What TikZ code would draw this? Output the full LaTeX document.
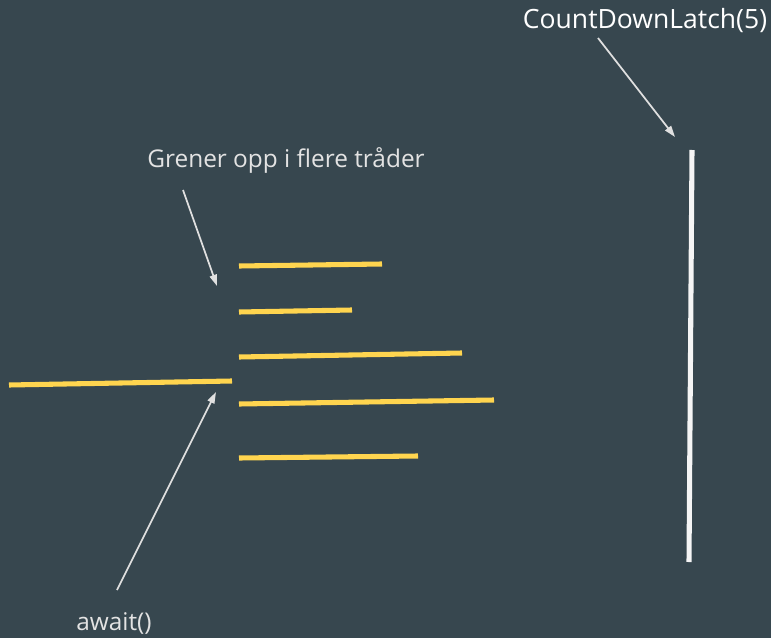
\documentclass[tikz,border=0pt]{standalone}
\usepackage{fontspec}
\setmainfont{Open Sans}
\usetikzlibrary{arrows.meta}

\definecolor{slate}{HTML}{37474F}
\definecolor{thread}{HTML}{FFD54F}
\definecolor{pointer}{HTML}{E0E0E0}

\tikzset{
    label/.style={text=pointer!90!white, font=\fontsize{18.3}{22}\selectfont, inner sep=0pt},
    pointer/.style={draw=pointer, line width=1.3pt, -{Triangle[length=8.5pt,width=5.5pt]}},
    thread/.style={draw=thread, line width=3.8pt},
}

\begin{document}
\begin{tikzpicture}[x=0.75pt, y=-0.75pt]

        \fill[slate] (0,0) rectangle (771,638);
        \useasboundingbox (0,0) rectangle (771,638);

        % Main thread
        \coordinate (main start) at (9,385);
        \coordinate (main end) at (232,381);
        \draw [thread] (main start) -- (main end);

        % Branches
        \foreach \n/\ya/\xb/\yb in {1/266/382/264, 2/312/352/310, 3/357/462/353, 4/404/494/400, 5/458/418/456}{
            \coordinate (b\n) at (239,\ya);
            \coordinate (e\n) at (\xb,\yb);
            \draw [thread] (b\n) -- (e\n);
        }

        % Latch
        \coordinate (latch top) at (692,150);
        \coordinate (latch bottom) at (689,562);
        \draw [line width=3.8pt, white!96!black] (latch top) -- (latch bottom);

        % Labels
        \node[label, text=white, font=\fontsize{19.9}{24}\selectfont] (latch) at (645,21) {CountDownLatch(5)};
        \node[label] (branch) at (286,160) {Grener opp i flere tråder};
        \node[label] (wait) at (114,623) {await()};

        \coordinate (latch from) at (598,38);
        \coordinate (latch to) at (675,137);
        \coordinate (branch from) at (183,190);
        \coordinate (branch to) at (217,286);
        \coordinate (wait from) at (117,590);
        \coordinate (wait to) at (216,392);

        \draw [pointer] (latch from) -- (latch to);
        \draw [pointer] (branch from) -- (branch to);
        \draw [pointer] (wait from) -- (wait to);

    \end{tikzpicture}
\end{document}
